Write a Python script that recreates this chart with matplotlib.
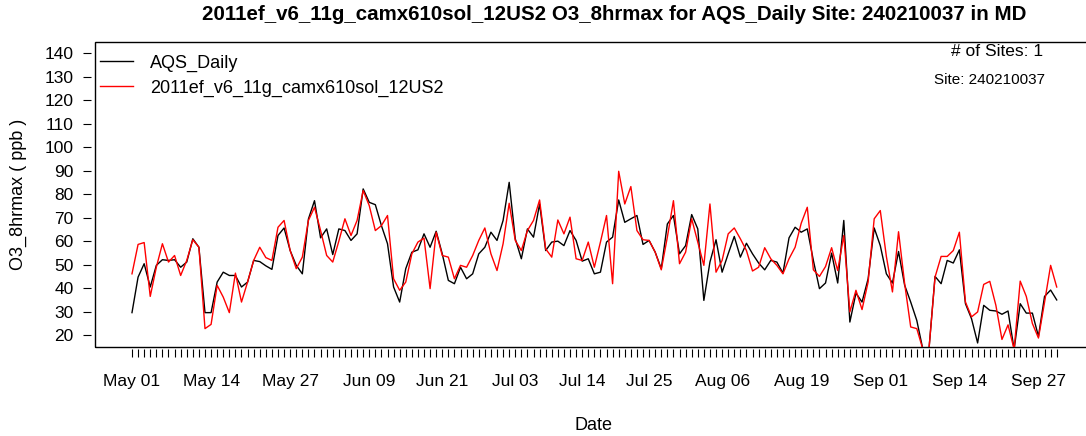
import matplotlib
matplotlib.use("Agg")
import matplotlib.pyplot as plt
from matplotlib.patches import Rectangle
import numpy as np
import pandas as pd

plt.rcParams['font.family'] = ['Liberation Sans', 'DejaVu Sans']

# daily O3 8-hr max (ppb), 2011-05-01 .. 2011-09-30
dates = pd.date_range("2011-05-01", "2011-09-30", freq="D")

aqs_daily = [
    29.6, 44.7, 50.4, 40.5, 49.7, 52.1, 51.8, 52.1, 48.9, 51.1,
    61.0, 57.4, 29.6, 29.6, 42.6, 46.8, 45.4, 45.4, 40.5, 42.6,
    51.8, 51.3, 49.5, 48.0, 62.4, 65.6, 56.0, 49.7, 46.1, 69.4,
    77.2, 61.4, 65.2, 54.3, 65.2, 64.5, 60.3, 63.1, 82.2, 76.5,
    75.5, 66.6, 58.9, 40.5, 34.1, 48.3, 55.3, 56.3, 63.1, 57.4,
    64.2, 54.6, 43.3, 41.9, 48.9, 44.0, 46.1, 54.6, 57.4, 63.8,
    60.3, 68.8, 85.0, 61.0, 52.5, 65.2, 61.7, 75.8, 56.0, 59.6,
    60.0, 58.1, 64.5, 60.3, 51.5, 52.5, 46.1, 46.8, 59.6, 61.7,
    77.5, 68.0, 69.5, 70.9, 58.6, 60.3, 55.3, 48.3, 67.3, 70.9,
    54.6, 58.1, 71.3, 65.2, 34.8, 51.1, 60.6, 46.8, 54.6, 62.0,
    53.2, 59.1, 54.6, 50.7, 47.8, 51.8, 51.1, 46.4, 61.4, 65.9,
    63.8, 65.2, 51.8, 39.8, 42.2, 54.9, 42.2, 68.8, 25.6, 37.9,
    34.1, 44.0, 65.6, 58.1, 46.1, 42.2, 55.6, 41.3, 34.1, 26.3,
    14.0, 14.0, 45.0, 41.9, 51.8, 50.7, 56.3, 33.4, 27.0, 16.7,
    32.7, 30.6, 30.3, 28.9, 30.3, 14.0, 33.4, 29.4, 29.4, 19.5,
    36.5, 39.2, 35.0,
]

camx = [
    46.1, 58.6, 59.4, 36.5, 48.9, 58.9, 51.1, 53.9, 45.4, 51.8,
    60.6, 57.4, 22.8, 24.6, 41.2, 36.2, 29.6, 46.4, 34.1, 42.6,
    51.8, 57.4, 53.0, 51.8, 65.9, 68.8, 56.0, 48.3, 53.2, 68.8,
    74.4, 64.5, 53.9, 51.1, 60.0, 69.5, 62.4, 68.8, 81.5, 75.1,
    64.5, 66.6, 70.9, 44.0, 39.1, 42.6, 54.6, 59.6, 61.3, 39.8,
    63.8, 53.9, 53.2, 44.0, 49.7, 48.9, 53.9, 60.3, 65.6, 54.6,
    47.5, 58.9, 76.1, 60.3, 56.0, 64.5, 68.8, 77.5, 56.7, 53.2,
    69.0, 63.1, 70.2, 52.5, 51.8, 59.6, 48.9, 59.6, 70.9, 41.9,
    89.7, 75.8, 83.2, 64.5, 60.6, 60.3, 55.3, 47.8, 61.7, 77.2,
    50.4, 55.3, 69.5, 59.6, 49.7, 75.8, 46.8, 51.8, 63.1, 65.6,
    61.0, 56.0, 47.3, 48.9, 57.2, 52.5, 49.7, 46.1, 52.5, 57.4,
    67.6, 74.4, 47.8, 45.0, 49.2, 57.2, 47.5, 62.4, 29.9, 39.1,
    30.9, 42.6, 69.5, 73.0, 53.5, 38.4, 64.0, 42.0, 23.5, 22.8,
    14.0, 14.0, 44.7, 53.5, 53.5, 56.0, 63.8, 34.1, 27.8, 29.9,
    41.6, 42.9, 32.7, 18.2, 24.4, 14.0, 43.0, 36.5, 25.0, 18.8,
    34.0, 49.7, 40.5,
]

label_dates = ["May 01", "May 14", "May 27", "Jun 09", "Jun 21", "Jul 03", "Jul 14",
               "Jul 25", "Aug 06", "Aug 19", "Sep 01", "Sep 14", "Sep 27"]

model_name = "2011ef_v6_11g_camx610sol_12US2"
site_id = "240210037"

days = np.arange(len(dates))
day_names = list(dates.strftime("%b %d"))
tick_text = [d if d in label_dates else "" for d in day_names]

fig = plt.figure(figsize=(10.86, 4.36), dpi=100)
W, H = 1086, 436
ax = fig.add_axes([95 / W, 89.5 / H, 998.7 / W, 304.8 / H])

ax.plot(days, aqs_daily, color="black", lw=1.0, label="AQS_Daily")
ax.plot(days, camx, color="red", lw=1.0, label=model_name)

pad_days = 0.04 * (days[-1] - days[0])
ax.set_xlim(days[0] - pad_days, days[-1] + pad_days)
ax.set_ylim(15.2, 144.8)

# R-style box with axes drawn slightly outside it
for side in ax.spines:
    ax.spines[side].set_visible(False)
ax.spines['left'].set_position(('outward', 3))
ax.spines['bottom'].set_position(('outward', 2))
ax.add_patch(Rectangle((0, 0), 1, 1, transform=ax.transAxes, fill=False,
                       edgecolor="black", lw=1.0, clip_on=False))

ax.set_yticks(np.arange(20, 141, 10))
ax.set_xticks(days)
ax.set_xticklabels(tick_text)
ax.tick_params(axis="y", direction="out", length=5.5, width=0.8, pad=7, labelsize=12.5)
ax.tick_params(axis="x", direction="out", length=5.5, width=0.8, pad=12, labelsize=12.5)

ax.legend(loc="upper left", bbox_to_anchor=(5 / 998.7, 1 - 13 / 304.8), frameon=False,
          borderaxespad=0, borderpad=0, fontsize=13, handlelength=1.8,
          handletextpad=0.95, labelspacing=0.42)

fig.text(614 / W, 1 - 14 / H,
         f"{model_name} O3_8hrmax for AQS_Daily Site: {site_id} in MD",
         ha="center", va="center", fontsize=14.8, fontweight="bold")
fig.text(18 / W, 1 - 194 / H, "O3_8hrmax ( ppb )", rotation=90,
         ha="center", va="center", fontsize=13)
fig.text(593 / W, 1 - 425 / H, "Date", ha="center", va="center", fontsize=13)
fig.text(1043 / W, 1 - 51.7 / H, "# of Sites: 1", ha="right", va="center", fontsize=12.5)
fig.text(1045 / W, 1 - 80 / H, f"Site: {site_id}", ha="right", va="center", fontsize=11)

fig.savefig("out.png", dpi=100)
